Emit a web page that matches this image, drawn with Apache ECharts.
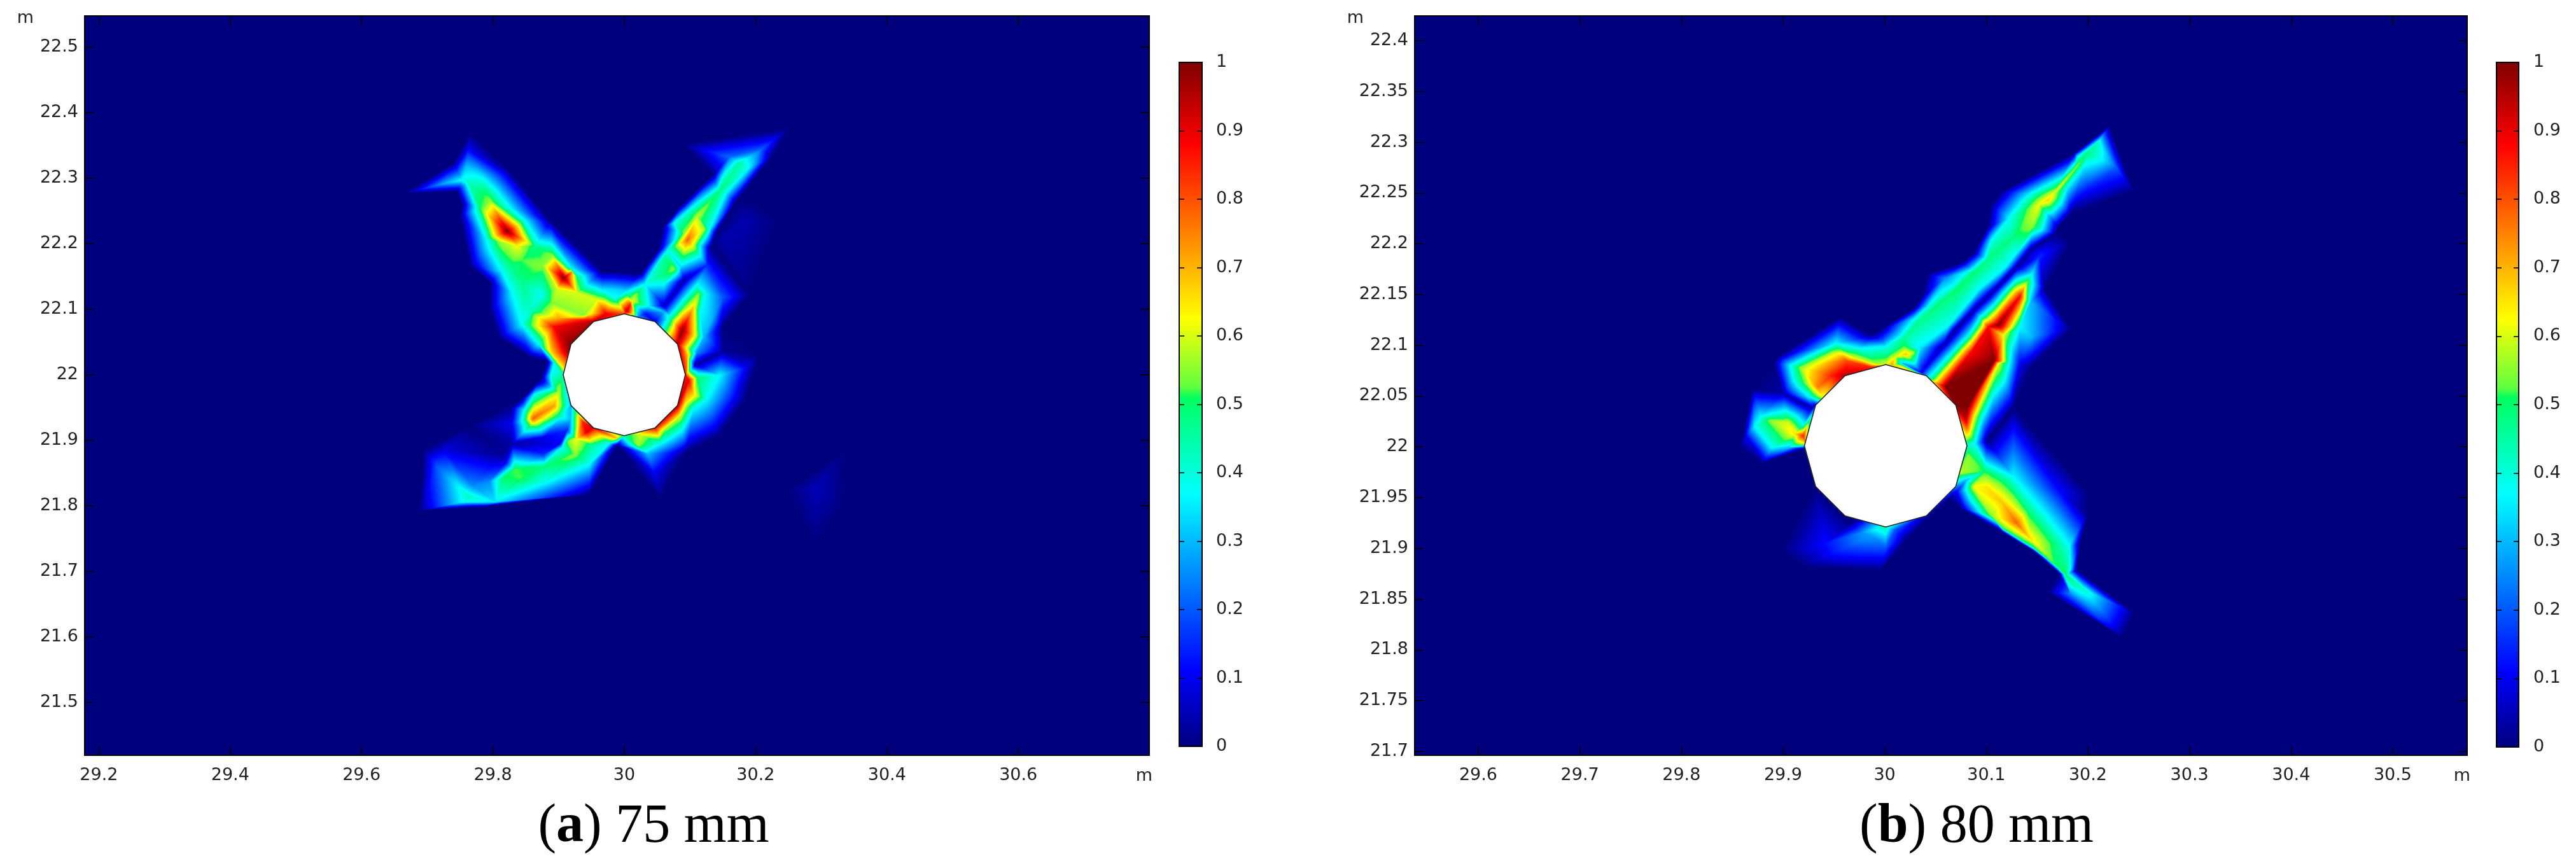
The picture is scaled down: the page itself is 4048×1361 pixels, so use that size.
<!DOCTYPE html>
<html><head><meta charset="utf-8">
<style>html,body{margin:0;padding:0;background:#fff}#c{width:4048px;height:1361px}</style>
<script src="https://cdn.jsdelivr.net/npm/echarts@6/dist/echarts.min.js"></script>
</head><body><div id="c"></div>
<script>
// ---- axis ticks and captions ----
const xTicksA=[29.2,29.4,29.6,29.8,30,30.2,30.4,30.6];
const yTicksA=[21.5,21.6,21.7,21.8,21.9,22,22.1,22.2,22.3,22.4,22.5];
const xTicksB=[29.6,29.7,29.8,29.9,30,30.1,30.2,30.3,30.4,30.5];
const yTicksB=[21.7,21.75,21.8,21.85,21.9,21.95,22,22.05,22.1,22.15,22.2,22.25,22.3,22.35,22.4];
const barTicks=[0,0.1,0.2,0.3,0.4,0.5,0.6,0.7,0.8,0.9,1];
const captionLetters=['a','b'];
const captionTexts=['75 mm','80 mm'];
const unitLabel='m';
// ---- colour table (value, colour) ----
const colourStops=[[0,'#00007f'],[0.11,'#0000ff'],[0.37,'#00ffff'],[0.51,'#00ff60'],[0.525,'#60ff40'],[0.625,'#ffff00'],[0.88,'#ff0000'],[1,'#800000']];
// ---- field A: hole vertices [x,y,value] ----
const holeA=[[30,22.093,.8],[30.047,22.081,.1],[30.081,22.047,.95],[30.093,22,.85],[30.081,21.953,.95],[30.047,21.919,.88],[30,21.907,.45],[29.953,21.919,.9],[29.919,21.953,.3],[29.907,22,.45],[29.919,22.047,1],[29.953,22.081,.95]];
// ---- field A: mesh nodes [x,y,value] ----
const nodesA=[
[29.666,22.277,0],[29.740,22.323,0],[29.765,22.368,0],[29.824,22.313,0],[29.888,22.235,0],[29.967,22.157,0],[29.987,22.157,0],[30.022,22.154,0],[30.027,22.157,0],[30.051,22.190,0],[30.059,22.225,0],[30.086,22.258,0],[30.135,22.305,0],[30.091,22.352,0],[30.251,22.376,0],[30.224,22.332,0],[30.170,22.264,0],[30.140,22.216,0],[30.133,22.196,0],
[29.745,22.280,0],[29.753,22.261,0],[29.750,22.242,0],[29.755,22.216,0],[29.765,22.167,0],[29.795,22.141,0],[29.795,22.099,0],[29.809,22.057,0],[29.854,22.028,0],[29.883,22.020,0],
[30.190,22.122,0],[30.150,22.073,0],[30.200,22.050,0],[30.205,22.028,0],[30.185,21.963,0],[30.145,21.908,0],[30.095,21.882,0],[30.076,21.853,0],[30.056,21.811,0],
[30.234,22.232,0],[30.185,22.238,.04],[30.150,22.209,.04],[30.200,22.264,0],
[29.695,22.284,.14],[29.725,22.292,.28],[29.753,22.297,.38],[29.760,22.319,.3],[29.762,22.342,.12],[29.770,22.277,.45],[29.762,22.293,.42],
[29.785,22.300,.37],[29.849,22.235,.37],[29.918,22.164,.37],[29.967,22.128,.37],
[29.772,22.261,.37],[29.790,22.206,.37],[29.814,22.157,.37],[29.829,22.125,.37],[29.844,22.076,.37],[29.869,22.047,.37],[29.893,22.018,.37],
[29.829,22.164,.48],[29.864,22.196,.47],[29.844,22.141,.47],[29.874,22.122,.38],[29.859,22.099,.42],
[29.795,22.266,.55],[29.782,22.253,.52],[29.809,22.203,.55],[29.845,22.175,.52],[29.838,22.196,.62],[29.837,22.225,.68],[29.822,22.219,1],
[29.891,22.182,.55],[29.876,22.167,.55],[29.898,22.131,.6],[29.938,22.091,.55],[29.920,22.157,.72],[29.928,22.125,.6],[29.908,22.148,1],
[29.928,22.148,.5],[29.958,22.115,.6],[29.982,22.109,.55],[30.012,22.112,.62],[29.948,22.093,.62],[30.017,22.122,.55],[30.032,22.138,.38],[29.977,22.131,.33],[30.002,22.128,.33],[29.987,22.117,.38],
[29.891,22.109,.55],[29.864,22.091,.55],[29.901,22.086,.72],[29.893,22.073,.88],[29.940,22.084,.85],[30.009,22.107,.85],[29.972,22.093,.9],[30.004,22.097,.95],[30.017,22.091,.5],[30.022,22.089,.25],
[29.888,22.034,.65],[29.913,22.034,.95],[29.908,22.008,.62],
[30.175,22.323,.45],[30.145,22.280,.48],[30.106,22.245,.5],[30.061,22.180,.45],
[30.150,22.303,.37],[30.101,22.254,.37],[30.076,22.232,.37],[30.066,22.190,.37],[30.037,22.148,.37],
[30.190,22.316,.37],[30.155,22.277,.37],[30.130,22.222,.37],[30.086,22.164,.33],[30.061,22.138,.37],[30.037,22.105,.37],
[30.210,22.345,.2],[30.160,22.332,.22],[30.195,22.335,.3],
[30.111,22.242,.58],[30.123,22.222,.55],[30.106,22.199,.6],[30.096,22.206,.78],[30.091,22.216,.55],[30.076,22.161,.55],
[30.130,22.193,.03],[30.091,22.144,.03],[30.061,22.105,.05],[30.032,22.093,.12],
[30.126,22.167,.15],[30.113,22.123,.55],[30.106,22.105,.65],[30.091,22.101,.55],[30.088,22.067,1],[30.108,22.060,.62],[30.096,22.028,.7],[30.101,22.002,.55],[30.071,22.086,.45],[30.061,22.096,.3],[30.111,22.138,.37],[30.123,22.125,.37],[30.116,22.093,.37],[30.150,22.118,.2],[30.133,22.083,.3],[30.121,22.057,.3],[30.111,22.034,.25],[30.150,22.036,.02],[30.108,22.015,.03],[30.113,22.005,.3],[30.111,21.995,.5],[30.145,21.999,.37],[30.185,22.011,.1],
[30.098,21.992,.9],[30.106,21.969,.65],[30.126,21.963,.37],[30.168,21.963,.1],
[30.093,21.957,.65],[30.105,21.947,.37],[30.056,21.895,.37],[30.036,21.879,.3],[30.046,21.850,.1],[30.066,21.928,.75],[30.085,21.937,.6],[30.061,21.915,.55],[30.021,21.892,.55],[30.026,21.908,.6],
[29.937,21.928,.85],[29.942,21.912,.9],[29.927,21.902,.62],[29.915,21.899,.55],[29.925,21.878,.55],[29.987,21.904,.7],[29.952,21.892,.45],[29.989,21.892,0],[29.977,21.895,.37],[29.947,21.863,.37],[29.878,21.834,.37],[29.804,21.806,.35],[29.947,21.818,0],[29.779,21.798,0],[29.688,21.793,0],
[29.764,21.814,.42],[29.834,21.856,.52],[29.841,21.842,.52],[29.816,21.843,.5],[29.878,21.860,.48],
[29.819,21.865,.1],[29.794,21.837,.25],[29.814,21.878,.02],[29.903,21.895,.1],[29.878,21.879,.15],[29.910,21.903,.3],[29.905,21.889,.37],
[29.695,21.886,0],[29.725,21.885,.08],[29.764,21.921,0],[29.715,21.860,.2],[29.750,21.827,.38],[29.769,21.831,.25],[29.755,21.806,.38],
[29.861,21.933,.78],[29.893,21.952,.72],[29.900,21.973,.58],[29.858,21.923,.55],[29.848,21.931,.45],[29.900,21.989,.5],[29.863,21.970,.37],[29.848,21.947,.37],[29.843,21.921,.3],[29.873,21.912,.3],[29.905,21.936,.4],[29.918,21.931,.3],[29.913,21.915,.15],[29.878,21.905,.1],[29.829,21.895,.03],[29.829,21.950,.02],[29.829,21.925,.1],[29.829,21.957,0],[29.868,21.989,0],
[29.888,21.999,.37],[29.874,21.995,0],[29.844,21.963,0],
[30.337,21.886,0],[30.249,21.824,0],[30.288,21.740,0],[30.332,21.795,0],[30.293,21.827,.05]
];
// ---- field B: hole vertices [x,y,value] ----
const holeB=[[30.001,22.081,.6],[30.041,22.070,.3],[30.070,22.041,1],[30.081,22.001,.42],[30.070,21.961,.25],[30.041,21.932,.05],[30.001,21.921,.45],[29.961,21.932,0],[29.932,21.961,0],[29.921,22.001,.55],[29.932,22.041,.1],[29.961,22.070,.95]];
// ---- field B: mesh nodes [x,y,value] ----
const nodesB=[
[30.221,22.316,0],[30.245,22.252,0],[30.183,22.229,0],[30.186,22.289,0],[30.116,22.252,0],[30.105,22.239,0],[30.101,22.216,0],[30.088,22.191,0],[30.077,22.182,0],[30.035,22.214,0],[30.042,22.170,0],[30.036,22.147,0],[30.029,22.137,0],[29.997,22.116,0],[29.987,22.110,0],[29.956,22.128,0],[29.895,22.089,0],[29.878,22.068,0],[29.870,22.057,0],[29.861,22.013,0],[29.891,22.082,0],
[30.210,22.300,.42],[30.214,22.283,.37],[30.190,22.286,.37],[30.199,22.289,.48],[30.189,22.276,.55],[30.166,22.249,.62],[30.152,22.239,.62],[30.161,22.243,.66],[30.145,22.216,.55],[30.150,22.248,.47],[30.171,22.243,.47],[30.127,22.206,.48],[30.102,22.185,.48],[30.074,22.158,.5],[30.032,22.122,.47],[30.004,22.093,.45],
[30.115,22.196,.48],[30.088,22.172,.49],[30.052,22.140,.48],[30.020,22.108,.46],
[30.122,22.225,.37],[30.105,22.204,.37],[30.080,22.172,.37],[30.068,22.160,.37],[30.043,22.139,.37],[30.029,22.126,.37],[30.001,22.099,.37],[30.059,22.166,.25],
[30.180,22.256,.37],[30.155,22.214,.37],[30.130,22.191,.37],[30.119,22.177,.37],[30.094,22.156,.37],[30.063,22.120,.38],[30.035,22.097,.35],[30.018,22.082,.3],
[30.228,22.275,.2],[30.197,22.277,.37],[30.200,22.256,.15],
[30.171,22.216,0],[30.144,22.195,.03],[30.130,22.177,.02],[30.105,22.151,.03],[30.088,22.135,.03],[30.068,22.114,.03],[30.057,22.099,.04],[30.036,22.073,.1],
[30.152,22.187,.15],[30.183,22.202,0],[30.169,22.210,0],[30.158,22.156,0],[30.183,22.116,0],[30.144,22.078,0],
[30.145,22.170,.37],[30.140,22.162,.55],[30.127,22.156,.55],[30.133,22.148,.88],[30.112,22.120,1],[30.060,22.059,1],[30.046,22.068,.42],[30.050,22.063,.7],[30.122,22.157,.37],[30.043,22.072,.3],
[30.084,22.112,.37],[30.068,22.095,.37],[30.096,22.118,.62],[30.102,22.118,.88],[30.077,22.095,.62],[30.085,22.093,.88],
[30.117,22.110,.62],[30.116,22.118,.88],[30.108,22.085,1],[30.112,22.082,.62],[30.133,22.118,.37],[30.144,22.143,.3],[30.144,22.108,.3],[30.169,22.124,.12],[30.123,22.083,.37],[30.133,22.082,.1],[30.082,22.039,1],
[30.080,22.026,.92],[30.089,22.030,.6],[30.084,22.012,.6],[30.096,22.028,.37],[30.089,22.003,.37],[30.127,22.039,0],[30.101,22.006,0],
[30.074,21.974,.58],[30.082,21.991,.55],[30.099,21.976,.5],[30.088,21.961,.62],[30.101,21.960,.65],[30.116,21.945,.68],[30.130,21.925,.78],[30.105,21.932,.55],[30.127,21.941,.62],[30.144,21.909,.65],[30.169,21.883,.5],
[30.080,21.967,.3],[30.084,21.949,.37],[30.116,21.920,.5],[30.063,21.949,0],[30.074,21.940,0],[30.116,21.916,0],[30.147,21.897,0],[30.172,21.875,0],[30.147,21.900,.45],[30.071,21.955,.1],
[30.116,21.966,.5],[30.141,21.938,.48],[30.172,21.903,.45],[30.127,21.970,.37],[30.158,21.934,.37],[30.182,21.903,.37],[30.200,21.955,0],[30.200,21.934,0],[30.192,21.903,0],[30.189,21.879,0],[30.172,21.955,.12],[30.183,21.880,.37],
[30.178,21.874,.5],[30.197,21.859,.42],[30.161,21.857,0],[30.224,21.834,.15],[30.211,21.830,.15],[30.246,21.836,0],[30.234,21.812,0],[30.194,21.878,0],[30.183,21.855,.25],
[30.010,21.918,.2],[30.021,21.908,0],[29.996,21.878,0],[29.920,21.882,0],[29.899,21.898,0],[29.968,21.926,0],[29.987,21.913,.28],[30.001,21.915,.38],[30.001,21.901,.2],[29.970,21.905,.22],[29.942,21.905,.12],[29.976,21.915,.25],[29.920,21.899,.06],[29.962,21.888,.08],
[29.888,22.026,.55],[29.905,22.024,.6],[29.920,22.011,.85],[29.912,22.013,.65],[29.920,22.003,.6],[29.878,22.030,.37],[29.872,22.020,.37],[29.889,21.999,.37],[29.906,21.999,.3],[29.864,22.010,.1],[29.857,21.999,0],[29.879,21.984,0],[29.921,21.998,0],[29.892,22.032,.4],[29.920,22.021,.4],
[29.900,22.053,.03],[29.928,22.038,.03],[29.938,22.049,.6],
[29.949,22.093,.57],[29.917,22.078,.55],[29.923,22.062,.55],[29.952,22.102,.37],[29.907,22.080,.37],[29.910,22.066,.37],[29.926,22.049,.37],
[29.948,22.070,.85],[29.934,22.059,.75],[29.984,22.079,.85],[29.962,22.085,.8],[29.993,22.081,.58],[29.970,22.088,.6],[29.976,22.097,.37],[29.998,22.105,.2],
[30.019,22.099,.52],[30.029,22.093,.55],[30.007,22.081,.72],[30.018,22.079,.6],[30.021,22.091,.68],[30.011,22.089,.6],[30.032,22.078,.25]
];

// Delaunay triangulation (Bowyer-Watson) of the mesh nodes
function triangulate(pts){
  const P=pts.map(p=>[p[0],p[1]]);const n=P.length;
  P.push([20,10],[40,10],[30,40]);
  let tris=[[n,n+1,n+2]];
  const inC=(t,p)=>{const a=P[t[0]],b=P[t[1]],c=P[t[2]];
    const ax=a[0]-p[0],ay=a[1]-p[1],bx=b[0]-p[0],by=b[1]-p[1],cx=c[0]-p[0],cy=c[1]-p[1];
    const d=(ax*ax+ay*ay)*(bx*cy-cx*by)-(bx*bx+by*by)*(ax*cy-cx*ay)+(cx*cx+cy*cy)*(ax*by-bx*ay);
    const o=(b[0]-a[0])*(c[1]-a[1])-(b[1]-a[1])*(c[0]-a[0]);
    return o>0?d>0:d<0;};
  for(let i=0;i<n;i++){
    const bad=[],good=[];
    tris.forEach(t=>(inC(t,P[i])?bad:good).push(t));
    const edges={};
    bad.forEach(t=>[[t[0],t[1]],[t[1],t[2]],[t[2],t[0]]].forEach(e=>{
      const k=Math.min(e[0],e[1])+'_'+Math.max(e[0],e[1]);
      edges[k]=edges[k]?null:e;}));
    tris=good;
    Object.keys(edges).forEach(k=>{if(edges[k])tris.push([edges[k][0],edges[k][1],i]);});
  }
  return tris.filter(t=>t[0]<n&&t[1]<n&&t[2]<n);
}
// Data-dependent edge flips, so mesh edges follow the ridges of the field
function refine(pts,tris){
  const grad=t=>{const a=pts[t[0]],b=pts[t[1]],c=pts[t[2]];
    const x1=b[0]-a[0],y1=b[1]-a[1],x2=c[0]-a[0],y2=c[1]-a[1],d1=b[2]-a[2],d2=c[2]-a[2],det=x1*y2-x2*y1;
    return [(d1*y2-d2*y1)/det,(x1*d2-x2*d1)/det];};
  const key=(a,b)=>a<b?a+'_'+b:b+'_'+a;
  const len=(a,b)=>Math.hypot(pts[a][0]-pts[b][0],pts[a][1]-pts[b][1]);
  const orient=(a,b,c)=>(pts[b][0]-pts[a][0])*(pts[c][1]-pts[a][1])-(pts[b][1]-pts[a][1])*(pts[c][0]-pts[a][0]);
  const jump=(g1,g2,l)=>g2?Math.hypot(g1[0]-g2[0],g1[1]-g2[1])*l:0;
  let flips=0;
  for(let pass=0;pass<40;pass++){
    let changed=false;
    let map={};
    const build=()=>{map={};tris.forEach((t,i)=>{[[0,1],[1,2],[2,0]].forEach(e=>{const k=key(t[e[0]],t[e[1]]);(map[k]=map[k]||[]).push(i);});});};
    build();
    const keys=Object.keys(map);
    for(const k of keys){
      const m=map[k];if(!m||m.length!==2)continue;
      const [a,b]=k.split('_').map(Number);
      const i=m[0],j=m[1];
      const c=tris[i].find(v=>v!==a&&v!==b),d=tris[j].find(v=>v!==a&&v!==b);
      const o1=orient(c,d,a),o2=orient(c,d,b);
      if(o1*o2>=0||Math.abs(o1)<4e-6||Math.abs(o2)<4e-6)continue;
      const nb=(p,q,self)=>{const l=map[key(p,q)];if(!l)return null;const o=l.find(x=>x!==self);return o===undefined?null:grad(tris[o]);};
      const g1=grad([a,b,c]),g2=grad([a,b,d]),h1=grad([c,d,a]),h2=grad([c,d,b]);
      const nAC=nb(a,c,i),nCB=nb(c,b,i),nBD=nb(b,d,j),nDA=nb(d,a,j);
      const before=jump(g1,g2,len(a,b))+jump(g1,nAC,len(a,c))+jump(g1,nCB,len(c,b))+jump(g2,nBD,len(b,d))+jump(g2,nDA,len(d,a));
      const after=jump(h1,h2,len(c,d))+jump(h1,nAC,len(a,c))+jump(h2,nCB,len(c,b))+jump(h2,nBD,len(b,d))+jump(h1,nDA,len(d,a));
      if(after<before*0.999){
        tris[i]=[c,d,a];tris[j]=[c,d,b];build();changed=true;flips++;
      }
      if(flips>4000)break;
    }
    if(!changed||flips>4000)break;
  }
  return tris;
}
const gradStops=colourStops.map(s=>({offset:s[0],color:s[1]}));
function hex(c){return [1,3,5].map(i=>parseInt(c.substr(i,2),16));}
function colourOf(v){
  for(let i=1;i<colourStops.length;i++){if(v<=colourStops[i][0]){
    const a=colourStops[i-1],b=colourStops[i],t=(v-a[0])/(b[0]-a[0]),ca=hex(a[1]),cb=hex(b[1]);
    return 'rgb('+ca.map((x,j)=>Math.round(x+(cb[j]-x)*t)).join(',')+')';}}
  return colourStops[colourStops.length-1][1];
}
function fieldSeries(nodes,hole,axisIdx){
  const pts=nodes.concat(hole);const seen={};const uniq=pts.filter(p=>{const k=p[0]+'_'+p[1];if(seen[k])return false;seen[k]=1;return true;});
  const tris=refine(uniq,triangulate(uniq)).filter(t=>uniq[t[0]][2]>0||uniq[t[1]][2]>0||uniq[t[2]][2]>0);
  return [{
    type:'custom',xAxisIndex:axisIdx,yAxisIndex:axisIdx,silent:true,progressive:0,z:2,
    data:tris,
    renderItem(params,api){
      const t=tris[params.dataIndex];
      const a=uniq[t[0]],b=uniq[t[1]],c=uniq[t[2]];
      const pa=api.coord([a[0],a[1]]),pb=api.coord([b[0],b[1]]),pc=api.coord([c[0],c[1]]);
      const d1x=pb[0]-pa[0],d1y=pb[1]-pa[1],d2x=pc[0]-pa[0],d2y=pc[1]-pa[1];
      const dv1=b[2]-a[2],dv2=c[2]-a[2],det=d1x*d2y-d2x*d1y;
      const gx=(dv1*d2y-dv2*d1y)/det,gy=(d1x*dv2-d2x*dv1)/det,n2=gx*gx+gy*gy;
      let fill;
      if(!isFinite(n2)||n2<1e-9){fill=colourOf((a[2]+b[2]+c[2])/3);}
      else{fill={type:'linear',global:true,colorStops:gradStops,
        x:pa[0]-gx*a[2]/n2,y:pa[1]-gy*a[2]/n2,x2:pa[0]+gx*(1-a[2])/n2,y2:pa[1]+gy*(1-a[2])/n2};}
      return {type:'polygon',shape:{points:[pa,pb,pc]},style:{fill:fill,stroke:fill,lineWidth:0.8,lineJoin:'round'}};
    }
  },{
    type:'custom',xAxisIndex:axisIdx,yAxisIndex:axisIdx,silent:true,z:3,
    data:[0],
    renderItem(params,api){
      return {type:'polygon',shape:{points:hole.map(p=>api.coord([p[0],p[1]]))},style:{fill:'#fff',stroke:'#222',lineWidth:1.6}};
    }
  }];
}
function barSeries(axisIdx){
  return {type:'custom',xAxisIndex:axisIdx,yAxisIndex:axisIdx,silent:true,z:2,data:[0],
    renderItem(params,api){
      const p0=api.coord([0,0]),p1=api.coord([1,1]);
      return {type:'rect',shape:{x:p0[0],y:p1[1],width:p1[0]-p0[0],height:p0[1]-p1[1]},
        style:{fill:{type:'linear',global:true,x:0,y:p0[1],x2:0,y2:p1[1],colorStops:gradStops}}};
    }};
}
const FONT='"DejaVu Sans"',LBL='#222',FS=27;
const line={show:true,onZero:false,lineStyle:{color:'#000',width:2}};
function axis(type,pos,grid,min,max,ticks,showLabel,tickLen,margin){
  return {type:'value',position:pos,gridIndex:grid,min,max,z:6,scale:true,
    axisLine:line,splitLine:{show:false},
    axisTick:{show:true,inside:true,length:tickLen,customValues:ticks,lineStyle:{color:'#000',width:1.6}},
    axisLabel:{show:showLabel,customValues:ticks,margin:margin,color:LBL,fontFamily:FONT,fontSize:FS,
      showMinLabel:true,showMaxLabel:true,hideOverlap:false}};
}
const ax=[[29.1783,30.7994,21.4194,22.5476],[29.5374,30.5733,21.6962,22.4244]];
const xAxes=[
  axis('x','bottom',0,ax[0][0],ax[0][1],xTicksA,true,14,18),axis('x','top',0,ax[0][0],ax[0][1],xTicksA,false,14,0),
  axis('x','bottom',1,ax[1][0],ax[1][1],xTicksB,true,14,18),axis('x','top',1,ax[1][0],ax[1][1],xTicksB,false,14,0),
  axis('x','bottom',2,0,1,[],false,0,0),axis('x','top',2,0,1,[],false,0,0),
  axis('x','bottom',3,0,1,[],false,0,0),axis('x','top',3,0,1,[],false,0,0)];
const yAxes=[
  axis('y','left',0,ax[0][2],ax[0][3],yTicksA,true,14,10),axis('y','right',0,ax[0][2],ax[0][3],yTicksA,false,14,0),
  axis('y','left',1,ax[1][2],ax[1][3],yTicksB,true,14,10),axis('y','right',1,ax[1][2],ax[1][3],yTicksB,false,14,0),
  axis('y','left',2,0,1,barTicks,false,8,0),axis('y','right',2,0,1,barTicks,true,8,22),
  axis('y','left',3,0,1,barTicks,false,8,0),axis('y','right',3,0,1,barTicks,true,8,23)];
const units=[[40,29],[1798,1220],[2130,29],[3869,1220]];
const capCfg=[1022,3101];
const option={
  animation:false,backgroundColor:'#fff',
  grid:[
    {left:133,top:25,width:1673,height:1162,show:true,backgroundColor:'#00007f',borderWidth:0},
    {left:2223,top:25,width:1654,height:1162,show:true,backgroundColor:'#00007f',borderWidth:0},
    {left:1853,top:98,width:36,height:1075},
    {left:3923,top:98,width:35,height:1076}],
  xAxis:xAxes,yAxis:yAxes,
  title:captionTexts.map((t,i)=>({
    text:'{p|(}{b|'+captionLetters[i]+'}{p|) '+t+'}',left:capCfg[i],top:1252,textAlign:'center',
    textStyle:{fontWeight:'normal',fontFamily:'"Liberation Serif"',fontSize:86,rich:{
      p:{fontFamily:'"Liberation Serif"',fontSize:86,fontWeight:'normal',color:'#000'},
      b:{fontFamily:'"Liberation Serif"',fontSize:86,fontWeight:'bold',color:'#000'}}}})),
  graphic:units.map(u=>({type:'text',x:u[0],y:u[1],style:{text:unitLabel,fill:LBL,font:'27px "DejaVu Sans"',align:'center',verticalAlign:'middle'}})),
  series:[...fieldSeries(nodesA,holeA,0),...fieldSeries(nodesB,holeB,2),barSeries(4),barSeries(6)]
};
echarts.init(document.getElementById('c'),null,{renderer:'canvas'}).setOption(option);
</script></body></html>
